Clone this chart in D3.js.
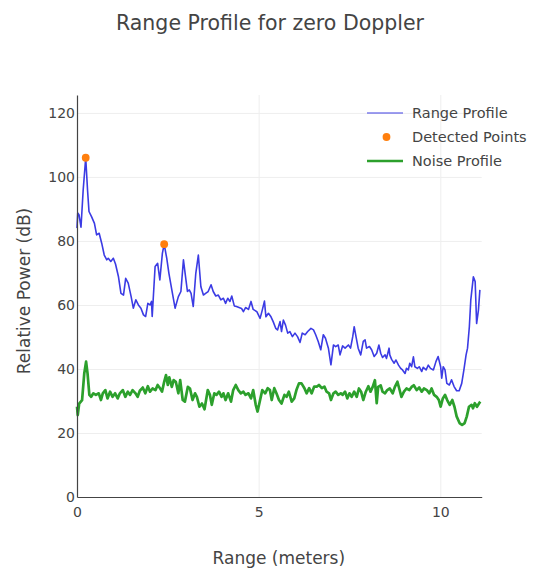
<!DOCTYPE html>
<html>
<head>
<meta charset="utf-8">
<script src="https://cdn.jsdelivr.net/npm/d3@7"></script>
<style>
  html, body { margin: 0; padding: 0; background: #fff; }
  svg { display: block; font-family: "DejaVu Sans", Verdana, sans-serif; }
</style>
</head>
<body>
<svg id="chart" width="542" height="569"></svg>
<script>
// ---- Data ----
const chartTitle = "Range Profile for zero Doppler";
const xTitle = "Range (meters)";
const yTitle = "Relative Power (dB)";
const seriesNames = ["Range Profile", "Detected Points", "Noise Profile"];
const xTicks = [0, 5, 10];
const yTicks = [0, 20, 40, 60, 80, 100, 120];

const profileRange = [0,0.02,0.055,0.11,0.17,0.24,0.29,0.33,0.40,0.48,0.54,0.61,0.68,0.75,0.82,0.86,0.93,1.00,1.06,1.14,1.21,1.28,1.34,1.41,1.49,1.55,1.62,1.69,1.76,1.83,1.89,1.95,2.01,2.05,2.07,2.15,2.22,2.28,2.35,2.40,2.47,2.53,2.61,2.70,2.79,2.86,2.93,2.97,3.04,3.09,3.14,3.20,3.27,3.34,3.41,3.48,3.54,3.61,3.69,3.75,3.82,3.89,3.96,4.03,4.09,4.15,4.21,4.26,4.33,4.39,4.46,4.53,4.58,4.64,4.72,4.79,4.85,4.95,5.04,5.10,5.16,5.20,5.27,5.34,5.40,5.47,5.52,5.59,5.63,5.68,5.74,5.80,5.86,5.93,6.00,6.07,6.14,6.20,6.28,6.35,6.44,6.51,6.57,6.64,6.71,6.78,6.84,6.92,6.99,7.06,7.12,7.19,7.24,7.31,7.38,7.47,7.53,7.59,7.63,7.68,7.74,7.81,7.88,7.93,7.97,8.05,8.11,8.18,8.25,8.31,8.36,8.41,8.48,8.52,8.59,8.61,8.66,8.73,8.78,8.85,8.91,8.96,9.03,9.07,9.12,9.16,9.21,9.26,9.30,9.37,9.42,9.49,9.53,9.61,9.67,9.73,9.81,9.88,9.94,10.01,10.04,10.08,10.13,10.18,10.25,10.31,10.38,10.45,10.52,10.59,10.65,10.71,10.75,10.80,10.84,10.91,10.96,11.00,11.05,11.09];
const profilePower = [84.0,88.7,88.2,84.3,95.9,106.0,95.9,89.2,87.6,85.5,81.9,82.4,79.3,75.6,74.1,74.6,73.6,74.6,72.8,68.9,63.6,63.1,68.3,66.8,62.6,59.0,61.6,60.0,59.0,56.9,56.4,60.5,60.0,61.1,56.4,72.0,73.0,67.8,76.1,79.0,74.6,69.9,64.7,59.0,62.6,64.2,74.1,70.4,64.2,64.7,63.6,59.5,69.9,75.6,65.7,63.1,63.6,64.2,66.3,64.2,62.8,63.1,61.6,62.1,60.5,62.1,61.1,62.8,59.7,59.5,59.2,58.9,57.9,59.2,58.6,61.1,58.6,57.9,55.8,58.4,61.2,56.3,57.4,56.3,54.8,52.7,52.2,54.8,51.7,55.3,53.7,51.2,51.7,50.1,51.2,50.1,48.3,51.2,50.7,51.7,52.7,52.2,50.7,48.6,46.0,50.7,49.6,46.5,41.3,47.5,47.0,47.5,44.4,47.2,46.5,47.5,46.5,50.1,53.2,50.1,46.5,44.4,48.6,49.1,46.5,47.0,46.0,43.9,44.9,47.5,44.9,43.6,44.4,43.3,46.5,44.4,43.0,41.8,42.8,41.2,40.2,39.7,38.6,40.2,39.7,41.8,40.7,43.8,40.7,40.2,40.7,39.2,40.5,39.7,41.2,40.2,39.7,42.3,43.9,40.7,37.1,40.7,39.7,35.5,35.0,36.6,34.5,33.2,33.2,35.5,39.7,44.4,46.5,53.2,61.6,68.8,67.3,54.2,58.4,64.7];

const detectedRange = [0.24, 2.40];
const detectedPower = [106.0, 79.0];

const noiseRange = [0,0.02,0.06,0.14,0.20,0.25,0.29,0.34,0.39,0.45,0.52,0.60,0.66,0.71,0.78,0.84,0.91,0.98,1.05,1.12,1.18,1.26,1.33,1.40,1.46,1.53,1.61,1.67,1.73,1.81,1.88,1.95,2.01,2.08,2.16,2.22,2.29,2.34,2.40,2.45,2.50,2.54,2.61,2.66,2.72,2.79,2.84,2.91,2.97,3.05,3.11,3.18,3.25,3.30,3.37,3.44,3.51,3.60,3.66,3.71,3.78,3.84,3.91,3.98,4.03,4.09,4.16,4.24,4.30,4.37,4.44,4.51,4.58,4.64,4.72,4.79,4.85,4.92,4.97,5.04,5.10,5.18,5.25,5.31,5.36,5.43,5.49,5.56,5.63,5.71,5.77,5.83,5.91,5.98,6.04,6.11,6.18,6.26,6.32,6.39,6.46,6.53,6.60,6.66,6.74,6.81,6.87,6.94,6.99,7.06,7.12,7.19,7.27,7.31,7.38,7.44,7.50,7.56,7.63,7.70,7.76,7.82,7.88,7.95,8.02,8.08,8.14,8.20,8.25,8.29,8.36,8.41,8.48,8.54,8.61,8.69,8.75,8.82,8.87,8.93,9.00,9.07,9.15,9.21,9.27,9.35,9.42,9.49,9.55,9.63,9.70,9.76,9.83,9.90,9.96,10.01,10.07,10.13,10.19,10.26,10.33,10.39,10.45,10.53,10.60,10.67,10.73,10.79,10.86,10.90,10.95,11.01,11.07,11.10];
const noisePower = [28.2,25.6,29.2,30.3,38.6,42.3,38.6,31.9,31.3,32.4,31.9,32.4,30.3,32.4,33.4,30.8,32.9,31.3,32.4,30.8,32.4,33.4,31.3,32.9,31.9,33.4,32.4,31.3,33.2,34.2,32.4,34.6,32.9,33.9,33.4,35.0,33.9,32.9,36.0,38.1,35.0,37.4,34.4,36.5,36.0,32.4,36.5,30.3,29.8,34.4,33.9,30.3,32.4,31.3,28.2,29.2,27.4,33.4,31.9,28.8,32.4,31.9,32.9,31.3,32.4,30.3,32.4,29.8,33.4,35.0,33.4,32.4,32.9,31.9,32.4,30.8,33.4,28.8,26.7,30.3,33.4,32.4,34.0,33.4,30.3,34.0,32.4,30.3,29.2,31.9,31.3,32.9,29.8,30.8,33.4,35.5,35.5,34.0,32.4,34.0,32.4,34.5,34.5,35.0,34.0,34.5,32.9,32.4,30.3,32.4,32.9,31.9,32.4,31.9,32.9,30.8,32.4,31.3,32.9,31.3,33.9,32.9,30.3,32.9,34.6,32.9,34.4,36.5,29.3,34.4,34.9,32.9,32.4,33.4,33.9,32.4,34.4,36.0,33.9,31.3,32.9,33.9,33.4,34.4,34.9,33.4,34.2,32.9,33.9,33.4,32.4,33.9,31.9,31.3,30.3,28.2,30.8,31.9,30.3,28.8,30.3,28.2,25.2,23.1,22.5,23.1,25.2,28.2,28.8,27.7,29.3,28.2,29.3,29.8];

const xDomain = [0, 11.14];
const yDomain = [0, 125.6];

// ---- Layout ----
const svg = d3.select("#chart");
const plot = { left: 77, right: 481.7, top: 95, bottom: 497 };
const textColor = "#444";

const x = d3.scaleLinear().domain(xDomain).range([plot.left, plot.right]);
const y = d3.scaleLinear().domain(yDomain).range([plot.bottom, plot.top]);

svg.append("rect").attr("width", 542).attr("height", 569).attr("fill", "#fff");

// grid
const gridY = svg.append("g").attr("transform", `translate(${plot.left},0)`)
  .call(d3.axisLeft(y).tickValues(yTicks.filter(d => d > 0)).tickSize(-(plot.right - plot.left)).tickFormat(""));
gridY.select(".domain").remove();
gridY.selectAll("line").attr("stroke", "#eee").attr("stroke-width", 1);

const gridX = svg.append("g").attr("transform", `translate(0,${plot.bottom})`)
  .call(d3.axisBottom(x).tickValues(xTicks.filter(d => d > 0)).tickSize(-(plot.bottom - plot.top)).tickFormat(""));
gridX.select(".domain").remove();
gridX.selectAll("line").attr("stroke", "#eee").attr("stroke-width", 1);

// lines
const line = d3.line().x(d => x(d[0])).y(d => y(d[1]));
const noiseData = noiseRange.map((r, i) => [r, noisePower[i]]);
const profileData = profileRange.map((r, i) => [r, profilePower[i]]);

const blue = "#3b3be4";
const green = "#2ca02c";
const orange = "#ff7f0e";

svg.append("path").datum(profileData).attr("d", line)
  .attr("fill", "none").attr("stroke", blue).attr("stroke-width", 1.6).attr("stroke-linejoin", "round");
svg.append("path").datum(noiseData).attr("d", line)
  .attr("fill", "none").attr("stroke", green).attr("stroke-width", 2.7).attr("stroke-linejoin", "round");

svg.append("g").selectAll("circle").data(detectedRange.map((r, i) => [r, detectedPower[i]]))
  .join("circle").attr("cx", d => x(d[0])).attr("cy", d => y(d[1])).attr("r", 3.9).attr("fill", orange);

// axes
const axY = svg.append("g").attr("transform", `translate(${plot.left},0)`)
  .call(d3.axisLeft(y).tickValues(yTicks).tickSize(0).tickPadding(2).tickFormat(d3.format("d")));
axY.select(".domain").attr("stroke", textColor).attr("stroke-width", 1.2);
axY.selectAll("text").attr("fill", textColor).style("font-size", "14px")
  .style("font-family", '"DejaVu Sans", Verdana, sans-serif');

const axX = svg.append("g").attr("transform", `translate(0,${plot.bottom})`)
  .call(d3.axisBottom(x).tickValues(xTicks).tickSize(0).tickPadding(10).tickFormat(d3.format("d")));
axX.select(".domain").attr("stroke", textColor).attr("stroke-width", 1.2);
axX.selectAll("text").attr("fill", textColor).style("font-size", "14px")
  .style("font-family", '"DejaVu Sans", Verdana, sans-serif');

// titles
svg.append("text").attr("x", 270).attr("y", 30).attr("text-anchor", "middle")
  .attr("fill", textColor).style("font-size", "20.5px").text(chartTitle);
svg.append("text").attr("x", (plot.left + plot.right) / 2 - 0.5).attr("y", 564).attr("text-anchor", "middle")
  .attr("fill", textColor).style("font-size", "17px").text(xTitle);
svg.append("text").attr("transform", `translate(30,${(plot.top + plot.bottom) / 2 - 5}) rotate(-90)`)
  .attr("text-anchor", "middle").attr("fill", textColor).style("font-size", "17px").text(yTitle);

// legend
const legend = svg.append("g");
const legendY = [113, 137, 161];
legend.append("line").attr("x1", 367).attr("x2", 403).attr("y1", legendY[0]).attr("y2", legendY[0])
  .attr("stroke", blue).attr("stroke-width", 1.6).attr("opacity", 0.65);
legend.append("circle").attr("cx", 386.5).attr("cy", legendY[1]).attr("r", 3.9).attr("fill", orange);
legend.append("line").attr("x1", 367).attr("x2", 403).attr("y1", legendY[2]).attr("y2", legendY[2])
  .attr("stroke", green).attr("stroke-width", 2.7);
legend.selectAll("text.leg").data(seriesNames).join("text").attr("class", "leg")
  .attr("x", 412).attr("y", (d, i) => legendY[i] + 5)
  .attr("fill", textColor).style("font-size", "14.5px").text(d => d);
</script>
</body>
</html>
